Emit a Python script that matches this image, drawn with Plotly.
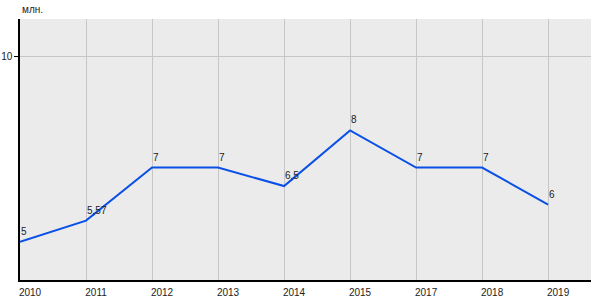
import plotly.graph_objects as go

years = ["2010", "2011", "2012", "2013", "2014", "2015", "2017", "2018", "2019"]
values = [5, 5.57, 7, 7, 6.5, 8, 7, 7, 6]
labels = ["5", "5,57", "7", "7", "6,5", "8", "7", "7", "6"]
unit = "млн."

fig = go.Figure()
fig.add_trace(go.Scatter(
    x=years, y=values, mode="lines",
    line=dict(color="#0a50e6", width=2),
    hoverinfo="skip",
))

anns = [dict(text=unit, xref="paper", yref="paper", x=0, y=1,
             xanchor="left", yanchor="bottom", yshift=2, showarrow=False,
             font=dict(size=10, color="#222222"))]
for i, (yv, t) in enumerate(zip(values, labels)):
    anns.append(dict(x=i, y=yv, text=t, xref="x", yref="y", showarrow=False,
                     xanchor="left", yanchor="bottom", xshift=-1, yshift=3,
                     font=dict(size=10, color="#222222")))

fig.update_layout(
    width=600, height=300,
    margin=dict(l=20, r=9, t=19, b=20),
    paper_bgcolor="white", plot_bgcolor="#ebebeb",
    showlegend=False,
    font=dict(family="Liberation Sans, Arial", size=10, color="#222222"),
    annotations=anns,
)
fig.update_xaxes(
    type="category", range=[0, 8.65], automargin=False,
    showgrid=True, gridcolor="#c6c6c6", gridwidth=1,
    showline=True, linecolor="black", linewidth=1.5,
    ticks="", ticklabelshift=10, ticklabelstandoff=2,
    zeroline=False, fixedrange=True,
)
fig.update_yaxes(
    range=[3.97, 11], tickvals=[10], ticktext=["10"], automargin=False,
    showgrid=True, gridcolor="#c6c6c6", gridwidth=1,
    showline=True, linecolor="black", linewidth=1.5,
    ticks="outside", ticklen=4, tickcolor="black",
    zeroline=False, fixedrange=True,
)

fig.write_html("out.html")
